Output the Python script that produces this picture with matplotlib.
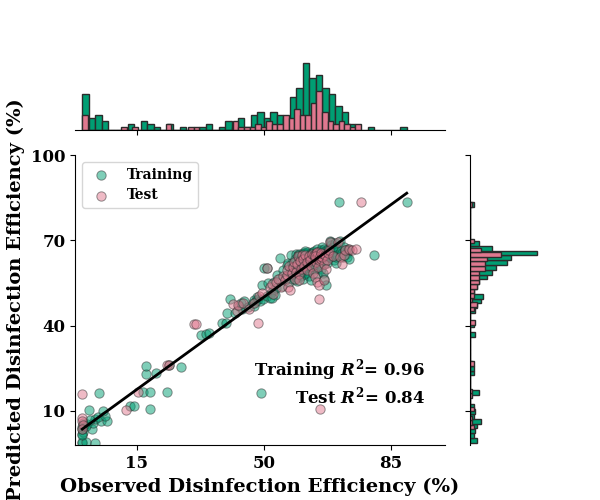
import numpy as np
import matplotlib.pyplot as plt

plt.rcParams['font.family'] = 'DejaVu Serif'
plt.rcParams['font.weight'] = 'bold'
plt.rcParams['mathtext.fontset'] = 'custom'
plt.rcParams['mathtext.rm'] = 'DejaVu Serif:bold'
plt.rcParams['mathtext.it'] = 'DejaVu Serif:italic:bold'
plt.rcParams['mathtext.bf'] = 'DejaVu Serif:bold'

# ============ DATA ============
# training set: observed (x) vs predicted (y), low region first
train_obs_low = [0.0, 0.0, 0.9, 3.6, 0.0, 0.2, 0.0,
                 0.0, 0.0, 1.3, 2.7, 0.5, 1.0, 0.3, 3.0,
                 3.6, 5.2, 6.9, 4.2, 2.2, 6.2,
                 1.8, 5.8, 13.2, 14.2, 18.6,
                 4.7, 16.6, 18.8, 23.4, 49.2,
                 17.7, 20.3, 17.7, 27.3, 23.8,
                 32.7, 34.1, 35.0, 38.5, 39.5, 39.8, 40.8]
train_pred_low = [-1.2, -0.8, -1.0, -1.2, 2.0, 2.4, 1.5,
                  3.7, 4.5, 5.3, 3.8, 5.0, 4.6, 5.8, 5.6,
                  7.0, 6.3, 6.6, 7.8, 6.8, 8.2,
                  10.4, 9.9, 11.6, 11.6, 10.6,
                  16.4, 16.7, 16.7, 16.7, 16.4,
                  23.1, 23.2, 25.7, 25.6, 26.0,
                  36.6, 37.0, 37.3, 40.8, 40.8, 44.6, 49.3]

# training set: dense cluster
train_obs_hi = [42.0, 43.3, 44.0, 44.5, 43.8, 45.6,
                47.0, 47.4, 47.8, 48.1, 47.2, 48.3,
                49.0, 49.4, 49.8, 50.0,
                51.0, 51.3, 50.8, 51.6, 51.9,
                52.5, 52.8, 53.1, 53.4, 53.7, 52.3,
                54.3, 54.5, 55.0, 55.4,
                56.0, 56.4, 56.8, 57.0, 57.3,
                57.6, 57.8, 58.0, 58.1, 58.3, 58.5, 58.6, 58.8, 58.9, 59.0, 59.2, 59.3,
                59.5, 59.6, 59.8, 59.9, 60.0, 60.1, 60.3, 60.4, 60.4, 60.6, 60.7, 60.8,
                60.9, 61.0, 61.0, 61.1, 59.7,
                61.3, 61.3, 61.4, 61.5, 61.6, 61.7, 61.8, 61.9, 62.0, 62.0, 62.1,
                62.2, 62.3, 62.4, 62.5, 62.5, 62.6, 62.7, 62.8, 62.9, 62.9, 61.5,
                63.1, 63.2, 63.3, 63.4, 63.5, 63.6, 63.7, 63.8, 63.9, 64.0, 64.1,
                64.2, 64.4, 64.5, 64.6, 64.7,
                64.9, 65.0, 65.0, 65.1, 65.2, 65.3, 65.4, 65.5, 65.6, 65.7,
                65.8, 65.9, 66.0, 66.1, 66.2, 66.3, 66.4, 66.5, 66.6, 66.6,
                66.8, 66.9, 67.0, 67.1, 67.2, 67.4, 67.6, 67.8, 68.0, 68.2, 68.3, 68.4,
                68.6, 68.7, 68.9, 69.0, 69.2, 69.3, 69.5, 69.6, 69.8, 69.9, 70.1, 70.2,
                70.8, 71.0, 71.3, 71.5, 71.8, 72.0,
                72.3, 72.6, 72.9, 73.1, 73.4, 73.6,
                80.4, 89.4]
train_pred_hi = [44.5, 47.0, 45.8, 48.5, 48.0, 46.5,
                 47.8, 49.0, 48.5, 50.2, 46.9, 49.5,
                 48.8, 54.2, 49.5, 60.2,
                 60.2, 54.9, 50.5, 49.8, 51.5,
                 52.0, 55.5, 50.8, 53.2, 57.8, 49.6,
                 56.5, 63.6, 53.8, 59.5,
                 57.0, 61.3, 62.0, 55.5, 58.5,
                 64.8, 62.0, 58.0, 60.5, 56.5, 63.5, 59.2, 61.0, 57.2, 65.2, 55.8, 60.0,
                 65.0, 65.3, 64.5, 62.5, 60.0, 58.5, 61.5, 63.5, 57.5, 59.5, 65.6, 62.0,
                 56.5, 64.0, 60.8, 58.0, 63.0,
                 65.2, 65.6, 64.9, 65.4, 63.8, 62.5, 61.0, 60.0, 64.2, 58.5, 65.8,
                 62.8, 61.8, 59.5, 63.2, 57.5, 65.0, 64.5, 60.5, 56.0, 62.0, 66.2,
                 65.5, 65.0, 64.2, 63.5, 62.0, 65.8, 61.0, 66.2, 59.5, 64.8, 63.0,
                 62.5, 60.5, 65.2, 58.0, 66.8,
                 65.5, 65.2, 64.6, 66.0, 63.8, 62.5, 65.8, 61.5, 64.0, 60.0,
                 66.5, 63.0, 65.0, 67.5, 58.5, 64.4, 62.0, 65.6, 56.5, 66.8,
                 65.5, 64.8, 66.2, 54.2, 63.5, 62.0, 67.0, 65.0, 64.0, 69.7, 66.5, 68.5,
                 69.4, 65.3, 66.0, 64.5, 67.5, 63.0, 65.8, 69.0, 62.0, 64.2, 66.8, 65.0,
                 83.3, 69.7, 66.2, 65.5, 64.0, 67.8,
                 66.5, 65.2, 64.0, 67.0, 63.5, 66.5,
                 65.0, 83.3]

# test set
test_obs = [0.0, 0.0, 0.0, 0.2, 0.0, 12.0, 15.3, 23.3, 23.8, 30.7, 31.4,
            41.5, 42.5, 43.0, 44.3, 46.0, 47.2, 48.3, 48.8, 49.5, 51.0,
            51.8, 52.2, 52.6, 53.5, 54.0, 54.8, 55.3, 55.8,
            56.3, 56.8, 57.2, 56.5, 57.0, 57.8, 58.2, 58.6, 58.4, 58.9,
            59.2, 59.5, 59.8, 60.0, 60.3, 60.5, 59.6,
            60.8, 61.2, 61.5, 61.8, 62.0, 62.4, 62.8, 63.1, 63.4, 63.6,
            63.9, 64.1, 64.3, 64.5, 64.7, 64.9, 65.0, 64.2, 64.6, 65.1, 64.8, 64.0,
            65.3, 65.3, 65.5, 65.6, 65.9, 66.2, 66.5, 66.0, 66.7, 65.8,
            67.0, 67.4, 67.8, 68.0, 67.2, 68.2, 69.2, 70.4, 71.0,
            71.6, 72.0, 72.5, 73.5, 74.2, 75.4, 76.8]
test_pred = [16.1, 7.5, 6.3, 4.9, 3.5, 10.2, 16.7, 26.3, 26.3, 40.5, 40.5,
             47.5, 45.0, 47.2, 47.8, 46.0, 48.0, 40.8, 50.5, 51.6, 60.2,
             53.5, 54.6, 51.0, 55.2, 56.5, 53.6, 57.5, 56.0,
             57.8, 53.6, 52.5, 59.5, 61.0, 58.5, 60.5, 56.5, 62.5, 59.0,
             61.5, 64.5, 58.0, 62.8, 60.0, 65.0, 56.2,
             63.5, 61.0, 64.8, 59.5, 62.2, 64.5, 63.0, 60.8, 65.2, 58.5,
             64.8, 63.8, 65.4, 62.5, 64.2, 60.5, 65.0, 57.0, 66.0, 63.0, 55.5, 64.5,
             54.2, 49.3, 10.6, 64.6, 63.5, 65.2, 61.8, 64.0, 56.0, 65.5,
             64.8, 63.2, 65.5, 66.6, 60.0, 69.5, 64.5, 69.4, 64.0,
             61.5, 65.0, 66.5, 67.0, 66.5, 66.8, 83.3]

r2_labels = ['Training $R^2$= 0.96', 'Test $R^2$= 0.84']
ticks_x = [15, 50, 85]
ticks_y = [10, 40, 70, 100]

train_obs = np.array(train_obs_low + train_obs_hi)
train_pred = np.array(train_pred_low + train_pred_hi)
test_obs = np.array(test_obs)
test_pred = np.array(test_pred)

green = '#009E73'
pink = '#E0788F'
edge = '#2b2b2b'

# ============ LAYOUT ============
fig = plt.figure(figsize=(6, 5), dpi=100)
ax = fig.add_axes([0.125, 0.11, 0.617, 0.58])
ax_top = fig.add_axes([0.125, 0.74, 0.617, 0.14], sharex=ax)
ax_right = fig.add_axes([0.783, 0.11, 0.117, 0.58], sharey=ax)

# ============ SCATTER + FIT ============
ax.scatter(train_obs, train_pred, s=45, color=green, alpha=0.5,
           edgecolors=edge, linewidths=0.7, label='Training')
ax.scatter(test_obs, test_pred, s=45, color=pink, alpha=0.5,
           edgecolors=edge, linewidths=0.7, label='Test')

coef = np.polyfit(train_obs, train_pred, 1)
xs = np.array([train_obs.min(), train_obs.max()])
ax.plot(xs, np.polyval(coef, xs), color='black', lw=2)

ax.text(0.946, 0.259, r2_labels[0], transform=ax.transAxes, ha='right',
        va='center', fontsize=12, fontweight='bold')
ax.text(0.946, 0.169, r2_labels[1], transform=ax.transAxes, ha='right',
        va='center', fontsize=12, fontweight='bold')

ax.set_xlim(-2, 100)
ax.set_ylim(-2, 100)
ax.set_xticks(ticks_x)
ax.set_yticks(ticks_y)
ax.tick_params(labelsize=12)
for s in ['top', 'right']:
    ax.spines[s].set_visible(False)
ax.set_xlabel('Observed Disinfection Efficiency (%)', fontsize=14, fontweight='bold')
ax.set_ylabel('Predicted Disinfection Efficiency (%)', fontsize=14, fontweight='bold')
ax.legend(loc='upper left', fontsize=10)

# ============ MARGINAL HISTOGRAMS ============
ax_top.hist(train_obs, bins=50, color=green, edgecolor=edge, linewidth=1)
ax_top.hist(test_obs, bins=50, color=pink, edgecolor=edge, linewidth=1)
ax_right.hist(train_pred, bins=50, color=green, edgecolor=edge, linewidth=1,
              orientation='horizontal')
ax_right.hist(test_pred, bins=50, color=pink, edgecolor=edge, linewidth=1,
              orientation='horizontal')

for s in ['top', 'right', 'left']:
    ax_top.spines[s].set_visible(False)
for s in ['top', 'right', 'bottom']:
    ax_right.spines[s].set_visible(False)
ax_top.tick_params(labelbottom=False, left=False, labelleft=False)
ax_right.tick_params(labelleft=False, bottom=False, labelbottom=False)

plt.savefig('out.png', dpi=100)
